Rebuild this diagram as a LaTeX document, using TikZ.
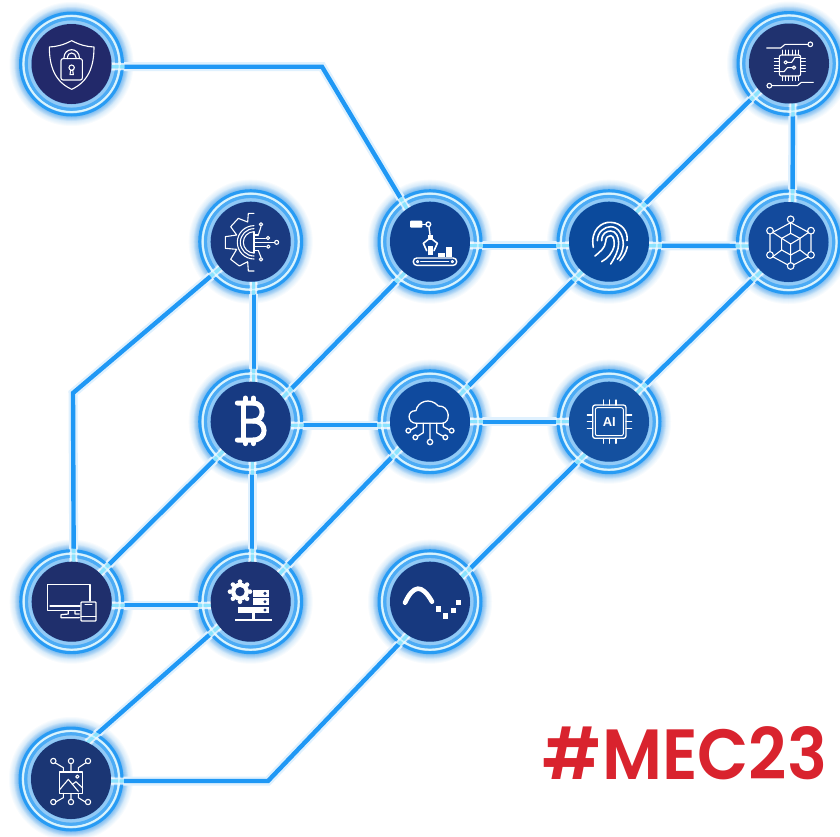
\documentclass[tikz,border=0pt]{standalone}
\usepackage{fontspec}
\usepackage{graphicx}
\newfontfamily\tagfont{Poppins}[BoldFont={Poppins SemiBold}]
\newfontfamily\chipfont{Liberation Sans}
\usetikzlibrary{calc}
\pgfdeclarelayer{glowlayer}
\pgfdeclarelayer{wirelayer}
\pgfdeclarelayer{ringlayer}
\pgfsetlayers{glowlayer,wirelayer,ringlayer,main}
\definecolor{wireblue}{HTML}{1F98F5}
\definecolor{wirecyan}{HTML}{7FE3FF}
\definecolor{glowblue}{HTML}{1F8FF0}
\definecolor{tagred}{HTML}{D9232E}
\definecolor{dA}{HTML}{22296A}
\definecolor{dB}{HTML}{1A3A80}
\definecolor{dC}{HTML}{104291}
\definecolor{dD}{HTML}{0B4A9C}
\definecolor{dE}{HTML}{134A9C}
\definecolor{dF}{HTML}{20326F}
\definecolor{dG}{HTML}{173A82}
\definecolor{dH}{HTML}{0F4A9E}
\definecolor{dI}{HTML}{14509F}
\definecolor{dJ}{HTML}{1F2F6C}
\definecolor{dK}{HTML}{1D3374}
\definecolor{dL}{HTML}{17397F}
\definecolor{dM}{HTML}{1B3674}
\tikzset{
  disc/.style={circle,minimum size=80pt,inner sep=0pt,outer sep=0pt,fill=#1},
  zoomed/.style 2 args={shift={(#1,#2)},x=.33333pt,y=-.33333pt},
  ico/.style={draw=white,line width=1.1pt,line cap=round,line join=round},
  halo/.style={draw=wireblue!14,line width=9pt,line join=miter},
  core/.style={draw=wireblue,line width=4.4pt,line join=miter},
  corew/.style={draw=white,line width=7pt,opacity=.75},
  corec/.style={draw=wirecyan,line width=3.4pt,opacity=.85},
}
\newcommand\glowat[1]{%
  \foreach \r in {62,61,...,52}{\fill[glowblue,opacity=.035] (#1) circle (\r);}
  \foreach \r in {57,56,...,52}{\fill[glowblue,opacity=.08] (#1) circle (\r);}}
\newcommand\ringat[1]{%
  \draw[wireblue,line width=3pt,opacity=.9] (#1) circle (51);
  \draw[white!75!wirecyan,line width=2.2pt,opacity=.8] (#1) circle (48);
  \draw[wireblue!85!white,line width=3.2pt,opacity=.8] (#1) circle (45.2);
  \draw[white!60!wireblue,line width=3pt,opacity=.6] (#1) circle (42);}
\newcommand\wires[1]{%
  \draw[#1] (shield.east |- 0,66.7) -- (322,66.7) -- (robot.125);
  \draw[#1] ([yshift=-4pt]robot.east) -- ([yshift=-4pt]finger.west);
  \draw[#1] ([yshift=-4pt]finger.east) -- ([yshift=-4pt]cube.west);
  \draw[#1] (chip.223) -- (finger.47);
  \draw[#1] ([xshift=4pt]chip.south) -- ([xshift=4pt]cube.north);
  \draw[#1] (finger.228) -- (cloud.42);
  \draw[#1] (cube.227) -- (ai.46);
  \draw[#1] (ai.234) -- (wave.38);
  \draw[#1] (robot.231) -- (bitcoin.37);
  \draw[#1] ([yshift=-3.5pt]bitcoin.east) -- ([yshift=-3.5pt]cloud.west);
  \draw[#1] (cloud.east) -- (ai.west);
  \draw[#1] (cloud.222) -- (server.44);
  \draw[#1] (bitcoin.227) -- (monitor.45);
  \draw[#1] ([xshift=3pt]gear.south) -- ([xshift=3pt]bitcoin.north);
  \draw[#1] ([xshift=1.5pt]bitcoin.south) -- ([xshift=1.5pt]server.north);
  \draw[#1] (gear.221) -- (73,393) -- ([xshift=2pt]monitor.north);
  \draw[#1] ([yshift=-3.5pt]monitor.east) -- ([yshift=-3.5pt]server.west);
  \draw[#1] (server.218) -- (image.66);
  \draw[#1] (wave.236) -- (268,781) -- ([yshift=-2pt]image.east);
}
\begin{document}
\begin{tikzpicture}[x=1pt,y=-1pt]
\useasboundingbox (0,0) rectangle (840,836);
% nodes
\node[disc=dA] (shield) at (71.5,64) {};
\node[disc=dF] (chip) at (789,63.5) {};
\node[disc=dB] (gear) at (250.7,241.7) {};
\node[disc=dC] (robot) at (430,241.7) {};
\node[disc=dD] (finger) at (609,241.7) {};
\node[disc=dE] (cube) at (788.5,242) {};
\node[disc=dG] (bitcoin) at (250.7,421.7) {};
\node[disc=dH] (cloud) at (430,421.7) {};
\node[disc=dI] (ai) at (609,421.7) {};
\node[disc=dJ] (monitor) at (71.7,601.7) {};
\node[disc=dK] (server) at (250.7,601.7) {};
\node[disc=dL] (wave) at (430,601.7) {};
\node[disc=dM] (image) at (71,779) {};
% glow
\begin{pgfonlayer}{glowlayer}
\fill[white] (0,0) rectangle (840,836);
\foreach \n in {shield,chip,gear,robot,finger,cube,bitcoin,cloud,ai,monitor,server,wave,image}{\glowat{\n}}
\end{pgfonlayer}
% connectors
\begin{pgfonlayer}{wirelayer}
\wires{halo}
\wires{core}
\end{pgfonlayer}
% rings, with the connectors showing through them
\begin{pgfonlayer}{ringlayer}
\foreach \n in {shield,chip,gear,robot,finger,cube,bitcoin,cloud,ai,monitor,server,wave,image}{\ringat{\n}}
\begin{scope}
\clip (shield) circle (53) (chip) circle (53) (gear) circle (53) (robot) circle (53) (finger) circle (53) (cube) circle (53) (bitcoin) circle (53) (cloud) circle (53) (ai) circle (53) (monitor) circle (53) (server) circle (53) (wave) circle (53) (image) circle (53);
\wires{corew}
\wires{corec}
\end{scope}
\foreach \n in {shield,chip,gear,robot,finger,cube,bitcoin,cloud,ai,monitor,server,wave,image}{\draw[white!75!wirecyan,line width=1.6pt,opacity=.7] (\n) circle (48);}
\end{pgfonlayer}
% ===== icons =====
% shield
\begin{scope}[zoomed={0}{0}]
\draw[ico] (215,122) .. controls (190,135) and (170,140) .. (148,141) .. controls (148,200) and (165,245) .. (215,268) .. controls (265,245) and (282,200) .. (282,141) .. controls (260,140) and (240,135) .. (215,122) -- cycle;
\draw[ico,rounded corners=2pt] (183,176) rectangle (247,240);
\draw[ico] (192,176) -- (192,172) arc[start angle=180,end angle=360,radius=23] -- (238,176);
\draw[ico] (202,176) -- (202,172) arc[start angle=180,end angle=360,radius=13] -- (228,176);
\draw[ico] (215,203) circle (8);
\draw[ico] (212,210) -- (210,224) -- (220,224) -- (218,210);
\end{scope}
% gear, robot
\begin{scope}[zoomed={180}{180}]
\draw[ico] (222,100) -- (205,100) -- (203,126) -- (175,115) -- (152,140) -- (170,165) -- (136,170) -- (136,205) -- (170,208) -- (152,238) -- (178,258) -- (203,245) -- (205,273) -- (222,273);
\draw[ico] (222,137) arc[start angle=270,end angle=90,radius=50];
\draw[ico] (222,146) arc[start angle=270,end angle=90,radius=41];
\draw[ico] (222,155) arc[start angle=270,end angle=90,radius=32];
\draw[ico] (222,155) -- (222,219);
\foreach \y/\e in {165/235,175/256,187/283,200/258,212/235}{\draw[ico] (222,\y) -- (\e,\y);}
\draw[ico] (235,165) -- (243,140);
\draw[ico] (235,212) -- (243,232);
\draw[ico] (243,133) circle (5) (264,174) circle (5) (290,187) circle (6) (265,200) circle (5) (243,238) circle (5);
% robot
\fill[white,rounded corners=1pt] (690,122) rectangle (727,143);
\draw[ico,line width=1.4pt] (727,133) -- (738,133);
\draw[ico,line width=1.4pt] (745,133) circle (7);
\draw[ico,line width=1.4pt] (747,141) -- (751,172);
\fill[white] (744,165) rectangle (758,180);
\draw[ico,line width=1.6pt] (745,178) -- (730,190) -- (740,212);
\draw[ico,line width=1.6pt] (757,178) -- (772,190) -- (762,212);
\fill[white] (743,198) rectangle (759,225);
\fill[white] (775,219) rectangle (795,232);
\fill[white] (798,202) rectangle (816,232);
\draw[ico,line width=1.4pt,rounded corners=3.4pt] (700,234) rectangle (830,256);
\draw[ico,line width=1pt] (713,245) circle (3.5) (817,245) circle (3.5);
\draw[ico,line width=1.2pt] (722,245) -- (806,245);
\end{scope}
% chip, finger, cube
\begin{scope}[zoomed={540}{0}]
\draw[ico] (680,144) -- (722,144) -- (735,133) -- (804,133);
\draw[ico] (811,133) circle (7);
\draw[ico] (695,257) -- (772,257) -- (784,247) -- (820,247);
\draw[ico] (688,257) circle (7);
\draw[ico,rounded corners=2pt] (718,165) rectangle (782,228);
\foreach \i in {727,737,747,757,767,777}{\draw[ico,line width=.9pt] (\i-1,150) -- (\i-1,165); \draw[ico,line width=.9pt] (\i-1,228) -- (\i-1,242);}
\foreach \i in {175,185,195,205,215}{\draw[ico,line width=.9pt] (703,\i) -- (718,\i); \draw[ico,line width=.9pt] (782,\i) -- (796,\i);}
\draw[ico] (737,187) circle (5) (762,203) circle (5);
\draw[ico] (742,187) -- (755,187) -- (765,172) -- (782,172);
\draw[ico] (757,203) -- (742,203) -- (732,215) -- (718,215);
% fingerprint
\begin{scope}[line width=1.6pt,line cap=round,draw=white]
\draw (160,742) .. controls (150,690) and (185,665) .. (212,667) .. controls (245,668) and (265,695) .. (261,722);
\draw (172,722) .. controls (172,695) and (195,680) .. (212,680) .. controls (235,680) and (250,705) .. (250,735) .. controls (248,755) and (240,770) .. (232,778);
\draw (185,722) .. controls (185,700) and (200,693) .. (212,693) .. controls (228,693) and (236,710) .. (236,730) .. controls (236,750) and (225,772) .. (212,792);
\draw (165,768) .. controls (180,755) and (195,745) .. (197,725) .. controls (197,712) and (205,706) .. (212,707) .. controls (222,708) and (224,725) .. (222,740) .. controls (218,755) and (205,775) .. (185,785);
\draw (262,740) .. controls (258,758) and (250,770) .. (240,782);
\end{scope}
% cube
\draw[ico] (752,668) -- (806,697) (813,702) -- (813,755) (806,770) -- (760,795) (744,795) -- (698,770) (690,755) -- (690,702) (698,697) -- (752,668);
\draw[ico] (752,668) -- (752,700) (806,697) -- (780,715) (806,770) -- (780,750) (752,788) -- (752,765) (698,770) -- (725,750) (698,697) -- (725,715);
\draw[ico] (752,700) -- (780,715) -- (780,750) -- (752,765) -- (725,750) -- (725,715) -- cycle;
\draw[ico] (725,715) -- (752,732) -- (780,715) (752,732) -- (752,765);
\foreach \p in {(752,658),(813,692),(813,765),(752,798),(690,765),(690,692)}{\filldraw[ico,fill=dE] \p circle (10);}
\end{scope}
% bitcoin, cloud, ai
\begin{scope}[zoomed={190}{360}]
\begin{scope}[draw=white,line width=5pt,line cap=round,line join=round]
\draw (142,129) -- (190,129) .. controls (225,129) and (225,183) .. (190,183) -- (160,183);
\draw (160,129) -- (160,240);
\draw (190,183) .. controls (233,183) and (233,240) .. (190,240) -- (142,240);
\draw (166,114) -- (166,129) (190,114) -- (190,129) (166,240) -- (166,251) (190,240) -- (190,251);
\end{scope}
\draw[ico,line width=1.3pt] (680,190) .. controls (650,190) and (650,150) .. (678,152) .. controls (682,125) and (720,110) .. (745,138) .. controls (780,135) and (785,190) .. (755,190) -- cycle;
\draw[ico,line width=1.3pt] (720,190) -- (720,238) (700,190) -- (700,218) -- (684,228) (740,190) -- (740,218) -- (758,228) (680,190) -- (680,200) -- (662,210) (760,190) -- (760,200) -- (778,210);
\draw[ico,line width=1.3pt] (720,246) circle (8) (676,232) circle (7) (766,232) circle (7) (655,212) circle (7) (785,212) circle (7);
\draw[ico,line width=1.3pt,rounded corners=2.5pt] (1208,135) rectangle (1308,235);
\draw[ico,line width=1pt,rounded corners=2pt] (1216,143) rectangle (1300,227);
\foreach \i in {1240,1258,1278}{\draw[ico,line width=1.3pt] (\i,120) -- (\i,135) (\i,235) -- (\i,250);}
\foreach \i in {165,185,205}{\draw[ico,line width=1.3pt] (1192,\i) -- (1208,\i) (1308,\i) -- (1325,\i);}
\node[text=white,font=\chipfont\bfseries\fontsize{13}{13}\selectfont,inner sep=0pt] (ailabel) at (1258,185) {AI};
\end{scope}
% monitor, server
\begin{scope}[zoomed={0}{540}]
\draw[ico,line width=1.2pt] (240,212) -- (142,212) -- (142,133) -- (270,133) -- (270,183);
\draw[ico,line width=1.2pt] (150,198) -- (240,198);
\draw[ico,line width=1.2pt] (205,212) -- (205,222) -- (183,224) -- (183,233) -- (238,233) (225,212) -- (225,222) -- (238,222);
\draw[ico,line width=1.2pt,rounded corners=.7pt] (243,186) rectangle (288,243);
\draw[ico,line width=1pt] (243,228) -- (288,228) (255,192) -- (276,192);
\fill[white] (720,155) circle (27);
\foreach \a in {0,45,...,315}{\fill[white] ($(720,155)+(\a:30)$) circle (7);}
\fill[dK] (720,155) circle (14);
\fill[white] (760,150) rectangle (808,170);
\fill[white] (760,175) rectangle (808,195);
\fill[white] (714,200) rectangle (808,220);
\foreach \y in {160,185,210}{\fill[dK] (795,\y) circle (5);}
\fill[white] (755,220) rectangle (765,240);
\fill[white] (705,236) rectangle (815,243);
\end{scope}
% wave
\begin{scope}[zoomed={370}{540}]
\draw[white,line width=4.6pt,line cap=round] (105,188) .. controls (130,135) and (155,130) .. (186,185);
\foreach \p in {(205,207),(226,228),(250,212),(265,188)}{\fill[white] \p ++(-8,-8) rectangle ++(16,16);}
\end{scope}
% image
\begin{scope}[zoomed={0}{716}]
\draw[ico] (178,168) rectangle (248,232);
\draw[ico] (178,222) -- (205,190) -- (235,226);
\draw[ico] (217,205) -- (228,197) -- (248,216);
\draw[ico] (232,182) circle (5);
\draw[ico] (190,168) -- (190,155) -- (165,140) (213,168) -- (213,143) (235,168) -- (235,155) -- (258,140);
\draw[ico] (190,232) -- (190,245) -- (167,258) (213,232) -- (213,250) (235,232) -- (235,245) -- (256,258);
\draw[ico] (160,135) circle (8) (213,135) circle (8) (264,135) circle (8) (160,258) circle (8) (213,258) circle (8) (264,258) circle (8);
\end{scope}
% tag
\node[inner sep=0pt,text=tagred] (tag) at (685,753.5) {\resizebox{284pt}{53pt}{\tagfont\bfseries\#MEC23}};
\end{tikzpicture}
\end{document}
